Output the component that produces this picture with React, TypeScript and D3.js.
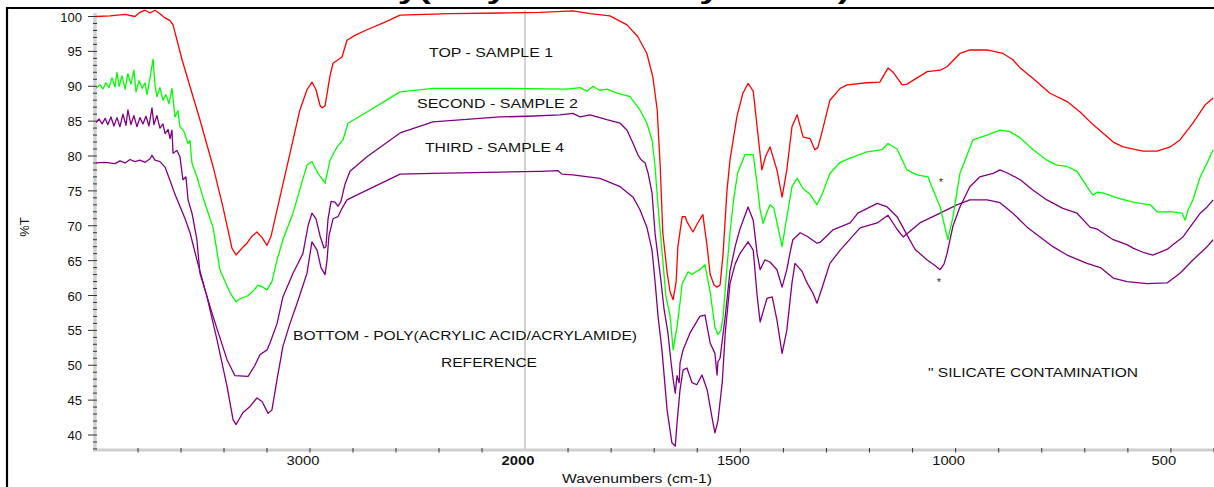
import React from 'react';
import * as d3 from 'd3';

type P = [number, number];

const TITLE = 'Poly(acrylic acid/acrylamide)';
const X_LABEL = 'Wavenumbers (cm-1)';
const Y_LABEL = '%T';
const X_MAJOR = [3000, 2000, 1500, 1000, 500];
const Y_MAJOR = [40, 45, 50, 55, 60, 65, 70, 75, 80, 85, 90, 95, 100];

// TOP - SAMPLE 1 (red)
const SAMPLE1: P[] = [
  [3995, 100.0], [3930, 100.1], [3860, 100.3], [3814, 100.0], [3791, 100.6], [3767, 100.9], [3744, 100.5],
  [3721, 100.9], [3698, 100.4], [3674, 99.8], [3651, 99.4], [3637, 98.8], [3595, 93.8], [3544, 88.5],
  [3512, 85.2], [3451, 78.5], [3405, 72.7], [3363, 66.8], [3344, 65.8], [3316, 66.8], [3293, 67.5],
  [3270, 68.5], [3247, 69.1], [3223, 68.3], [3200, 67.2], [3181, 68.5], [3153, 72.3], [3107, 78.5],
  [3047, 86.6], [3014, 89.5], [2991, 90.6], [2972, 89.5], [2953, 87.2], [2944, 86.9], [2930, 87.2],
  [2907, 91.5], [2893, 93.3], [2851, 94.2], [2828, 96.6], [2791, 97.3], [2735, 98.1], [2651, 99.2],
  [2581, 100.2], [2349, 100.4], [2116, 100.5], [1965, 100.6], [1889, 100.8], [1849, 100.4], [1803, 100.1],
  [1763, 98.8], [1738, 97.1], [1717, 94.7], [1703, 91.3], [1693, 86.6], [1686, 78.5], [1680, 69],
  [1670, 63.3], [1663, 60.5], [1656, 59.4], [1649, 62], [1645, 67], [1635, 71.3], [1628, 71.3],
  [1624, 70.6], [1610, 69.1], [1598, 70.5], [1587, 71.6], [1577, 67], [1570, 63], [1561, 61.5],
  [1554, 61.2], [1547, 61.5], [1540, 66], [1531, 75], [1524, 79.4], [1508, 85.6], [1494, 89],
  [1482, 90.4], [1470, 89.3], [1461, 84.2], [1450, 78], [1441, 80], [1431, 81.3], [1415, 78],
  [1403, 74.1], [1392, 78], [1380, 84.2], [1368, 85.9], [1354, 82.7], [1338, 82.5], [1327, 80.9],
  [1320, 81.2], [1310, 83.5], [1292, 88], [1268, 89.7], [1252, 90.2], [1206, 90.5], [1176, 90.6],
  [1157, 92.6], [1145, 92], [1124, 90.2], [1113, 90.3], [1066, 92.1], [1036, 92.3], [1020, 92.8],
  [990, 94.7], [967, 95.2], [927, 95.2], [890, 94.7], [867, 93.8], [850, 92.6], [820, 91.1],
  [781, 89], [741, 87.8], [711, 86.3], [681, 84.5], [634, 82], [611, 81.3], [565, 80.7],
  [532, 80.7], [502, 81.3], [479, 82.3], [449, 84.7], [421, 87.3], [402, 88.3],
];

// SECOND - SAMPLE 2 (green)
const SAMPLE2: P[] = [
  [3995, 89.7], [3977, 90.2], [3963, 89.6], [3949, 90.5], [3935, 89.8], [3921, 91.2], [3907, 89.9],
  [3898, 92.0], [3888, 90.0], [3874, 91.5], [3860, 89.6], [3847, 91.8], [3833, 90.3], [3819, 92.3],
  [3809, 89.2], [3795, 90.8], [3781, 89.7], [3767, 90.5], [3758, 88.8], [3744, 91.2], [3730, 93.9],
  [3721, 90.2], [3712, 88.5], [3698, 89.8], [3684, 88.0], [3670, 88.8], [3656, 87.5], [3642, 89.7],
  [3628, 85.6], [3614, 86.5], [3605, 84.2], [3586, 83.5], [3567, 81.8], [3558, 82.2], [3549, 79],
  [3526, 77], [3498, 74.1], [3465, 71], [3451, 69.8], [3419, 63.7], [3395, 62], [3372, 60.4],
  [3344, 59.1], [3326, 59.5], [3288, 60], [3265, 60.6], [3242, 61.5], [3219, 61.2], [3200, 60.8],
  [3177, 62], [3153, 65.1], [3126, 68], [3079, 71.8], [3037, 76.3], [3014, 78.7], [2991, 79.2],
  [2963, 77.5], [2930, 76.1], [2907, 79.4], [2874, 81.3], [2847, 82.3], [2823, 84.7], [2735, 86.3],
  [2581, 89.2], [2428, 89.7], [2116, 89.7], [1902, 89.6], [1872, 89.8], [1856, 89.3], [1842, 90.0],
  [1826, 89.4], [1810, 89.6], [1786, 89.0], [1756, 88.5], [1733, 86.6], [1717, 84.7], [1705, 82.3],
  [1698, 78.5], [1691, 72.7], [1682, 66.5], [1673, 60], [1663, 57], [1656, 52.2], [1647, 55.5],
  [1640, 59], [1635, 61.7], [1621, 63.4], [1612, 63], [1601, 63.5], [1594, 63.7], [1582, 64.4],
  [1570, 60.5], [1559, 55.5], [1552, 54.4], [1545, 55], [1540, 57], [1531, 64], [1524, 69],
  [1515, 74], [1506, 77.6], [1489, 80.2], [1470, 80.2], [1461, 76], [1454, 72.3], [1447, 70.3],
  [1438, 72], [1431, 73], [1422, 72.5], [1415, 70.5], [1403, 67], [1394, 70.5], [1380, 75.6],
  [1368, 76.8], [1354, 75.3], [1338, 74.5], [1322, 73], [1310, 74.5], [1292, 77.5], [1268, 79.1],
  [1245, 79.7], [1206, 80.6], [1171, 80.9], [1157, 81.8], [1136, 81], [1113, 78], [1090, 77.3],
  [1064, 77], [1052, 75.1], [1036, 72.7], [1025, 69.8], [1018, 68], [1006, 71.3], [990, 77.5],
  [960, 82.3], [927, 83], [897, 83.7], [874, 83.5], [850, 82.6], [820, 80.9], [788, 79.4],
  [765, 78.7], [741, 78.5], [718, 77.8], [695, 75.6], [681, 74.4], [671, 74.8], [658, 74.7],
  [625, 74], [588, 73.4], [548, 73], [532, 72], [495, 72], [474, 71.8], [467, 70.8], [460, 72.3],
  [449, 73.7], [432, 77], [416, 79], [402, 80.9],
];

// THIRD - SAMPLE 4 (purple, upper)
const SAMPLE4: P[] = [
  [3995, 84.8], [3981, 85.3], [3967, 84.6], [3953, 85.4], [3940, 84.5], [3926, 85.6], [3912, 84.3],
  [3898, 85.5], [3884, 84.2], [3870, 86.0], [3856, 84.4], [3847, 86.6], [3833, 84.5], [3819, 85.8],
  [3805, 84.2], [3791, 85.5], [3777, 84.6], [3763, 85.7], [3749, 84.3], [3735, 86.9], [3726, 84.5],
  [3712, 85.8], [3698, 84.0], [3684, 84.6], [3674, 83.2], [3660, 83.8], [3651, 82.5], [3642, 83.7],
  [3637, 80.4], [3619, 80.8], [3605, 79.9], [3591, 76.6], [3577, 77], [3567, 73.7], [3549, 71.8],
  [3526, 68], [3512, 63.2], [3451, 57], [3386, 50.8], [3349, 48.5], [3288, 48.4], [3256, 50],
  [3233, 51.5], [3200, 52.2], [3186, 53.2], [3153, 56], [3126, 59.8], [3079, 63.2], [3033, 66],
  [3009, 70], [2991, 71.8], [2972, 71], [2953, 68.5], [2935, 66.8], [2926, 67], [2916, 71],
  [2902, 73.5], [2884, 73.4], [2870, 72.8], [2856, 73.5], [2837, 76], [2814, 77.8], [2735, 79.9],
  [2581, 83.3], [2428, 84.9], [2116, 85.6], [1995, 85.7], [1919, 85.9], [1889, 86.1], [1872, 85.6],
  [1849, 85.9], [1810, 85.2], [1779, 84.7], [1763, 83.7], [1749, 81.8], [1738, 80.2], [1731, 79.5],
  [1721, 79], [1714, 77.5], [1705, 74.7], [1698, 68.9], [1686, 63], [1677, 58], [1668, 54.6],
  [1661, 50.5], [1656, 48], [1651, 46], [1647, 48.5], [1642, 47.5], [1640, 50.3], [1633, 52.2],
  [1617, 54.6], [1594, 57], [1582, 57.2], [1570, 53.2], [1559, 51.7], [1554, 48.6], [1552, 50.5],
  [1547, 51], [1535, 57], [1524, 63.5], [1512, 67], [1501, 69.5], [1482, 72.7], [1470, 70.8],
  [1461, 66], [1454, 63.7], [1443, 65.1], [1431, 64.8], [1415, 63.7], [1403, 61.2], [1392, 63.7],
  [1385, 66], [1378, 68], [1361, 69], [1345, 68.5], [1322, 67.5], [1315, 67.6], [1285, 69.4],
  [1245, 70.4], [1227, 71.8], [1182, 73.2], [1159, 72.7], [1136, 71.3], [1113, 68.7], [1094, 66.6],
  [1066, 65.1], [1048, 64.3], [1036, 63.7], [1027, 64.5], [1020, 66], [1013, 68], [1006, 70],
  [990, 72.7], [967, 75.6], [944, 77], [913, 77.5], [897, 78], [881, 77.6], [850, 76.6], [820, 75.1],
  [788, 73.7], [751, 72.5], [718, 71.8], [688, 69.8], [671, 69.5], [634, 68], [602, 67.3],
  [588, 66.8], [565, 66.2], [542, 65.8], [509, 66.6], [491, 67.5], [472, 68.4], [432, 71.8],
  [416, 72.7], [402, 73.7],
];

// BOTTOM - POLY(ACRYLIC ACID/ACRYLAMIDE) REFERENCE (purple, lower)
const REFERENCE: P[] = [
  [3995, 79.0], [3953, 79.1], [3907, 78.9], [3884, 79.3], [3860, 79.0], [3837, 79.5], [3814, 79.2],
  [3791, 79.4], [3767, 79.1], [3744, 79.6], [3735, 80.1], [3721, 79.4], [3698, 79.2], [3674, 78.4],
  [3651, 76.5], [3628, 74.5], [3605, 72.8], [3581, 71], [3558, 69], [3526, 65.1], [3479, 59.8],
  [3433, 53.7], [3386, 47], [3358, 42.2], [3344, 41.5], [3312, 43.2], [3279, 44.1], [3247, 45.3],
  [3223, 44.8], [3195, 43.1], [3177, 43.6], [3153, 48], [3126, 52.7], [3093, 56], [3060, 58.9],
  [3014, 63.2], [2991, 67.7], [2967, 66.5], [2949, 64], [2930, 63], [2921, 65], [2912, 68.5],
  [2893, 71], [2870, 71.3], [2851, 72.5], [2828, 73.7], [2735, 75.1], [2581, 77.4], [2428, 77.5],
  [2116, 77.7], [1965, 77.8], [1923, 77.9], [1914, 77.4], [1889, 77.3], [1826, 76.8], [1779, 75.6],
  [1749, 74.1], [1733, 72.3], [1717, 69.8], [1705, 66.5], [1698, 62], [1691, 57], [1682, 52.2],
  [1670, 43.6], [1659, 38.9], [1651, 38.4], [1647, 41.7], [1640, 46.5], [1633, 49.3], [1624, 49.6],
  [1612, 47.5], [1601, 47.2], [1589, 48.6], [1577, 46.5], [1566, 42.6], [1559, 40.3], [1552, 42],
  [1542, 47.5], [1535, 54.6], [1524, 61.7], [1512, 64.5], [1501, 66], [1482, 67.7], [1470, 66.5],
  [1461, 60], [1454, 56.2], [1438, 59.6], [1426, 59.8], [1415, 56.5], [1403, 51.7], [1392, 55],
  [1380, 61.8], [1373, 64.6], [1357, 63.5], [1345, 61.8], [1331, 60.3], [1322, 58.9], [1308, 61.5],
  [1292, 64.6], [1268, 66.5], [1222, 69.7], [1182, 70.4], [1157, 71.5], [1136, 69.5], [1122, 68.4],
  [1083, 70.4], [1036, 71.8], [997, 73], [967, 73.7], [927, 73.7], [897, 73.3], [867, 71.8],
  [834, 69.8], [804, 68.4], [774, 67], [741, 65.8], [695, 64.6], [664, 64], [634, 62.5], [602, 62],
  [555, 61.7], [509, 61.8], [479, 63.2], [449, 65.1], [416, 67], [402, 68],
];

const SERIES = [
  { name: 'REFERENCE', data: REFERENCE, color: '#800080' },
  { name: 'SAMPLE4', data: SAMPLE4, color: '#800080' },
  { name: 'SAMPLE2', data: SAMPLE2, color: '#00ff00' },
  { name: 'SAMPLE1', data: SAMPLE1, color: '#ff0000' },
];

const FONT = '"Liberation Sans", Arial, sans-serif';

export default function App() {
  const x = d3.scaleLinear().domain([4000, 2000, 400]).range([95, 525, 1214]);
  const y = d3.scaleLinear().domain([40, 100]).range([435, 16.5]);
  const line = d3.line<P>().x((d) => x(d[0])).y((d) => y(d[1]));

  const yMinor = d3.range(38, 101, 1);
  const xMinor = [...d3.range(3800, 2000, -200), ...d3.range(1900, 399, -100)];

  const axisY = 450;
  const axisX = 95;

  const note = (t: string, x0: number, yb: number, w: number, key: string, size = 12.5) => (
    <text key={key} x={x0} y={yb} textLength={w} lengthAdjust="spacingAndGlyphs" fontSize={size} fill="#111">{t}</text>
  );

  return (
    <svg width={1214} height={487} style={{ position: 'absolute', left: 0, top: 0, background: '#fff' }} fontFamily={FONT}>
      <rect x={0} y={0} width={1214} height={487} fill="#fff" />
      <text x={340} y={-1} textLength={510} lengthAdjust="spacingAndGlyphs" fontSize={26} fontWeight="bold" fill="#000">{TITLE}</text>
      <line x1={6} y1={8} x2={1214} y2={8} stroke="#000" strokeWidth={2.2} />
      <line x1={7} y1={7} x2={7} y2={487} stroke="#000" strokeWidth={2.2} />

      {/* 2000 break line */}
      <line x1={x(2000)} y1={10} x2={x(2000)} y2={axisY} stroke="#c4c4c4" strokeWidth={1.5} />

      {/* axes */}
      <line x1={axisX} y1={13} x2={axisX} y2={axisY + 1.5} stroke="#cfcfcf" strokeWidth={3.5} />
      <line x1={axisX - 2} y1={axisY} x2={1214} y2={axisY} stroke="#cfcfcf" strokeWidth={3} />
      {yMinor.map((v) => (
        <line key={'ym' + v} x1={v % 5 === 0 ? 88 : 93} x2={97} y1={y(v)} y2={y(v)} stroke="#333" strokeWidth={1} />
      ))}
      {Y_MAJOR.map((v) => (
        <text key={'yl' + v} x={82} y={y(v) + 5} textAnchor="end" fontSize={13} fill="#111">{v}</text>
      ))}
      {xMinor.map((w) => (
        <line key={'xm' + w} x1={x(w)} x2={x(w)} y1={axisY - 2} y2={axisY + 2.5} stroke="#333" strokeWidth={1} />
      ))}
      {X_MAJOR.map((w) => (
        <text key={'xl' + w} x={x(w) - 7} y={465} textAnchor="middle" fontSize={13}
          fontWeight={w === 2000 ? 'bold' : 'normal'} textLength={String(w).length * 8.2} lengthAdjust="spacingAndGlyphs" fill="#111">{w}</text>
      ))}
      <text x={637} y={483} textAnchor="middle" fontSize={12.5} textLength={150} lengthAdjust="spacingAndGlyphs" fill="#111">{X_LABEL}</text>
      <text transform="translate(29,227) rotate(-90)" textAnchor="middle" fontSize={13} fill="#111">{Y_LABEL}</text>

      {/* spectra */}
      <defs>
        <clipPath id="plotclip"><rect x={axisX + 1} y={9} width={1214 - axisX} height={axisY - 10} /></clipPath>
      </defs>
      <g clipPath="url(#plotclip)">
        {SERIES.map((s) => (
          <path key={s.name} d={line(s.data) || ''} fill="none" stroke={s.color} strokeWidth={1.3} strokeLinejoin="round" />
        ))}
      </g>

      {note('TOP - SAMPLE 1', 429, 57, 124, 'n1')}
      {note('SECOND - SAMPLE 2', 417, 108, 161, 'n2')}
      {note('THIRD - SAMPLE 4', 425, 152, 139, 'n3')}
      {note('BOTTOM - POLY(ACRYLIC ACID/ACRYLAMIDE)', 293, 340, 344, 'n4')}
      {note('REFERENCE', 441, 367, 96, 'n5')}
      {note('" SILICATE CONTAMINATION', 928, 377, 210, 'n6')}
      <text x={941} y={186} textAnchor="middle" fontSize={11} fill="#333">*</text>
      <text x={939} y={286} textAnchor="middle" fontSize={11} fill="#333">*</text>
    </svg>
  );
}
